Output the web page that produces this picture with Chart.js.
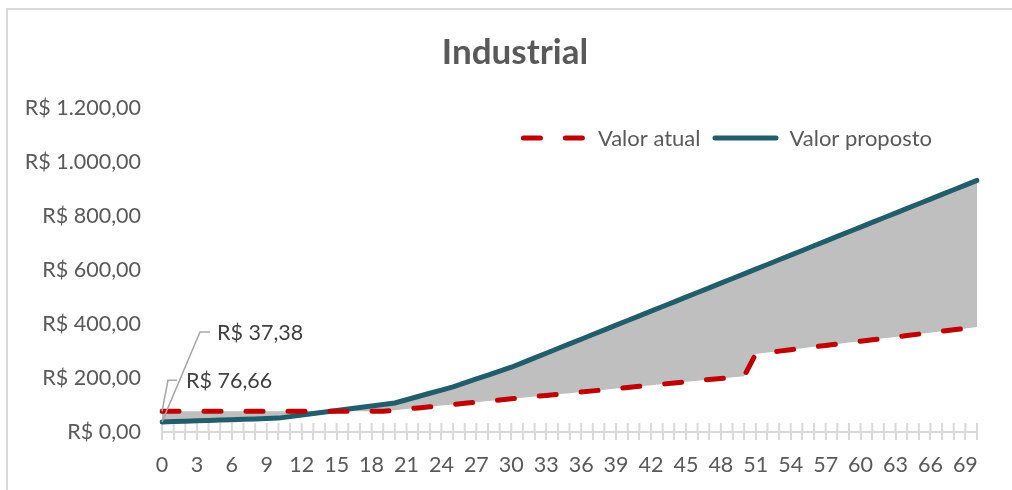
<!DOCTYPE html>
<html lang="pt-BR">
<head>
  <meta charset="UTF-8" />
  <title>Industrial</title>
  <script src="https://cdn.jsdelivr.net/npm/chart.js"></script>
  <style>
    html, body {
      margin: 0;
      padding: 0;
      background: #fff;
      overflow: hidden;
    }
    #frame {
      position: absolute;
      left: 6px;
      top: 8px;
      width: 1006px;
      height: 482px;
      border-left: 2px solid #d9d9d9;
      border-top: 2px solid #d9d9d9;
    }
    #wrap {
      position: absolute;
      left: 8px;
      top: 10px;
      width: 1004px;
      height: 480px;
    }
  </style>
</head>
<body>
  <div id="frame"></div>
  <div id="wrap"><canvas id="chart"></canvas></div>

  <script>
    // consumo (categorias do eixo x)
    const categories = ['0','1','2','3','4','5','6','7','8','9','10','11','12','13','14','15','16','17','18','19','20',
      '21','22','23','24','25','26','27','28','29','30','31','32','33','34','35','36','37','38','39','40',
      '41','42','43','44','45','46','47','48','49','50','51','52','53','54','55','56','57','58','59','60',
      '61','62','63','64','65','66','67','68','69','70'];

    const valorAtual = [76.66, 76.66, 76.66, 76.66, 76.66, 76.66, 76.66, 76.66, 76.66, 76.66, 76.66,
      76.66, 76.66, 76.66, 76.66, 76.66, 76.66, 76.66, 76.66, 76.66, 80.9,
      85.1, 89.3, 93.5, 97.7, 101.9, 106.1, 110.3, 114.5, 118.7, 122.9,
      127.1, 131.3, 135.5, 139.7, 143.9, 148.1, 152.3, 156.5, 160.7, 164.9,
      169.1, 173.3, 177.5, 181.7, 185.9, 190.1, 194.3, 198.5, 202.7, 206.9,
      289.0, 294.3, 299.5, 304.8, 310.0, 315.3, 320.6, 325.8, 331.1, 336.3,
      341.6, 346.9, 352.1, 357.4, 362.6, 367.9, 373.2, 378.4, 383.7, 389.0];

    const valorProposto = [37.38, 38.8, 40.2, 41.6, 43.0, 44.4, 45.8, 47.2, 48.6, 50.0, 51.4,
      57.0, 62.6, 68.2, 73.8, 79.4, 85.0, 90.6, 96.2, 101.8, 107.4,
      119.4, 131.4, 143.4, 155.4, 167.4, 181.9, 196.4, 210.9, 225.4, 239.9,
      257.2, 274.5, 291.8, 309.1, 326.4, 343.7, 361.0, 378.3, 395.6, 412.9,
      430.2, 447.5, 464.8, 482.1, 499.4, 516.7, 534.0, 551.3, 568.6, 585.9,
      603.2, 620.5, 637.8, 655.1, 672.4, 689.7, 707.0, 724.3, 741.6, 758.9,
      776.2, 793.5, 810.8, 828.1, 845.4, 862.7, 880.0, 897.3, 914.6, 931.9];

    const yTicks = [0, 200, 400, 600, 800, 1000, 1200];

    const FONT = 'Lato, "Open Sans", sans-serif';
    const TEXT = '#595959';
    const TITLE = 'Industrial';

    function brl(v) {
      const parts = v.toFixed(2).split('.');
      const inteiro = parts[0].replace(/\B(?=(\d{3})+(?!\d))/g, '.');
      return 'R$ ' + inteiro + ',' + parts[1];
    }

    // título centrado no quadro (não na área sem o respiro da direita)
    const frameTitle = {
      id: 'frameTitle',
      afterDraw(chart) {
        const ctx = chart.ctx;
        ctx.save();
        ctx.font = 'bold 35px ' + FONT;
        ctx.fillStyle = TEXT;
        ctx.textAlign = 'center';
        ctx.textBaseline = 'middle';
        ctx.fillText(TITLE, chart.width / 2 + 5, 43);
        ctx.restore();
      }
    };

    // marcas do eixo x que cruzam a linha (metade de cima)
    const crossTicks = {
      id: 'crossTicks',
      beforeDatasetsDraw(chart) {
        const x = chart.scales.x;
        const y0 = chart.scales.y.getPixelForValue(0);
        const ctx = chart.ctx;
        ctx.save();
        ctx.strokeStyle = '#d9d9d9';
        ctx.lineWidth = 2;
        ctx.beginPath();
        for (let i = 0; i < categories.length; i++) {
          const px = x.getPixelForValue(i);
          ctx.moveTo(px, y0 - 9);
          ctx.lineTo(px, y0);
        }
        ctx.stroke();
        ctx.restore();
      }
    };

    // legenda no canto superior direito, dentro da área do gráfico
    const insideLegend = {
      id: 'insideLegend',
      afterDatasetsDraw(chart) {
        const ctx = chart.ctx;
        const area = chart.chartArea;
        const sets = chart.data.datasets;
        const lineW = 66, gapText = 11, gapItem = 12;
        ctx.save();
        ctx.font = '22px ' + FONT;
        ctx.textBaseline = 'middle';
        let total = 0;
        sets.forEach((d, i) => {
          total += lineW + gapText + ctx.measureText(d.label).width + (i ? gapItem : 0);
        });
        let x = area.right - 45 - total;
        const y = area.top + 30;
        sets.forEach((d, i) => {
          if (i) x += gapItem;
          ctx.strokeStyle = d.borderColor;
          ctx.lineWidth = d.borderWidth;
          ctx.lineCap = 'round';
          ctx.setLineDash(d.borderDash || []);
          ctx.beginPath();
          ctx.moveTo(x + 2.5, y);
          ctx.lineTo(x + lineW - 2.5, y);
          ctx.stroke();
          ctx.setLineDash([]);
          x += lineW + gapText;
          ctx.fillStyle = TEXT;
          ctx.fillText(d.label, x, y + 1);
          x += ctx.measureText(d.label).width;
        });
        ctx.restore();
      }
    };

    // rótulos do primeiro ponto com linha de chamada
    const firstLabels = {
      id: 'firstLabels',
      afterDatasetsDraw(chart) {
        const ctx = chart.ctx;
        const specs = [
          { ds: 1, elbow: [38, -90], end: 48, text: 55 },
          { ds: 0, elbow: [6, -31], end: 15, text: 24 }
        ];
        ctx.save();
        ctx.strokeStyle = '#a6a6a6';
        ctx.lineWidth = 1.5;
        ctx.fillStyle = '#404040';
        ctx.font = '21.5px ' + FONT;
        ctx.textBaseline = 'middle';
        specs.forEach(s => {
          const pt = chart.getDatasetMeta(s.ds).data[0];
          const val = chart.data.datasets[s.ds].data[0];
          ctx.beginPath();
          ctx.moveTo(pt.x, pt.y);
          ctx.lineTo(pt.x + s.elbow[0], pt.y + s.elbow[1]);
          ctx.lineTo(pt.x + s.end, pt.y + s.elbow[1]);
          ctx.stroke();
          ctx.fillText(brl(val), pt.x + s.text, pt.y + s.elbow[1] + 1);
        });
        ctx.restore();
      }
    };

    const ctx = document.getElementById('chart').getContext('2d');
    new Chart(ctx, {
      type: 'line',
      data: {
        labels: categories,
        datasets: [
          {
            label: 'Valor atual',
            data: valorAtual,
            borderColor: '#c00000',
            backgroundColor: '#c00000',
            borderWidth: 5,
            borderDash: [17, 25],
            borderCapStyle: 'round',
            pointRadius: 0,
            tension: 0,
            fill: false
          },
          {
            label: 'Valor proposto',
            data: valorProposto,
            borderColor: '#225d6c',
            backgroundColor: '#225d6c',
            borderWidth: 5,
            borderCapStyle: 'round',
            pointRadius: 0,
            tension: 0,
            fill: { target: 0, above: '#bfbfbf', below: '#bfbfbf' }
          }
        ]
      },
      options: {
        responsive: true,
        maintainAspectRatio: false,
        animation: false,
        layout: { padding: { top: 98, left: 0, right: 35, bottom: 10 } },
        plugins: {
          title: { display: false },
          legend: { display: false },
          tooltip: { enabled: false }
        },
        scales: {
          x: {
            type: 'category',
            offset: false,
            grid: {
              display: true,
              drawOnChartArea: false,
              drawTicks: true,
              tickLength: 8,
              color: '#d9d9d9',
              lineWidth: 2
            },
            border: { display: true, color: '#d9d9d9', width: 2 },
            ticks: {
              autoSkip: false,
              maxRotation: 0,
              padding: 12,
              color: TEXT,
              font: { family: FONT, size: 21.5 },
              callback(value, index) {
                return index % 3 === 0 && index < 70 ? categories[index] : '';
              }
            },
            afterFit(scale) { scale.height = 48; }
          },
          y: {
            min: 0,
            max: 1200,
            grid: { display: false, drawTicks: false },
            border: { display: false },
            afterBuildTicks(scale) {
              scale.ticks = yTicks.map(v => ({ value: v }));
            },
            ticks: {
              padding: 21,
              color: TEXT,
              font: { family: FONT, size: 21.5 },
              callback(value) { return brl(value); }
            },
            afterFit(scale) { scale.width = 154; }
          }
        }
      },
      plugins: [crossTicks, insideLegend, firstLabels, frameTitle]
    });
  </script>
</body>
</html>
